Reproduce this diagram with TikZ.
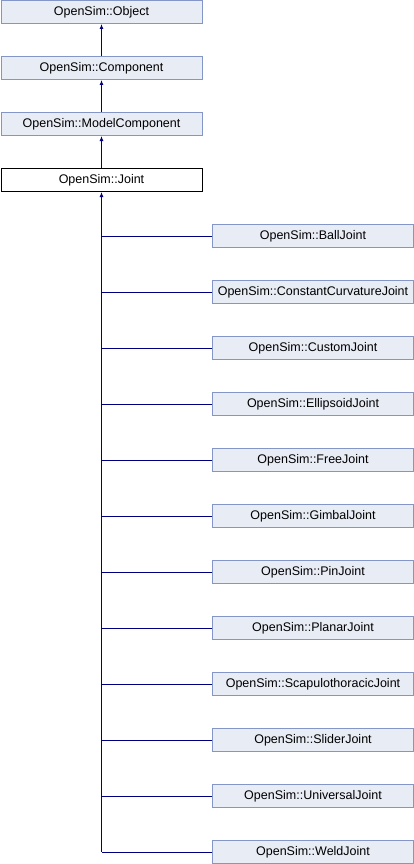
\documentclass[tikz,border=0pt]{standalone}
\usepackage{fontspec}
\setmainfont{Liberation Sans}
\usetikzlibrary{arrows.meta,positioning}
\definecolor{boxfill}{RGB}{232,236,245}
\definecolor{boxline}{RGB}{132,150,200}
\definecolor{edgeblue}{RGB}{0,0,128}

\begin{document}
\begin{tikzpicture}[x=1pt,y=-1pt,
  classbox/.style={draw=boxline,fill=boxfill,line width=1pt,minimum width=201pt,minimum height=23pt,inner sep=0pt,font=\fontsize{12.5}{14}\selectfont},
  mainbox/.style={classbox,draw=black,fill=white},
  edge/.style={draw=edgeblue,line width=1pt},
  inherit/.style={edge,{Latex[length=5pt,width=4pt]}-}]

%Canvas
\useasboundingbox (0,0) rectangle (414,864);

%Base classes
\node[classbox] (O) at (101.5,12) {OpenSim::Object};
\node[classbox] (C) at (101.5,68) {OpenSim::Component};
\node[classbox] (M) at (101.5,124) {OpenSim::ModelComponent};
\node[mainbox] (J) at (101.5,180) {OpenSim::Joint};

%Drawing inheritance up the chain
\draw[inherit] (O.south) -- (C.north);
\draw[inherit] (C.south) -- (M.north);
\draw[inherit] (M.south) -- (J.north);

%Derived joints
\foreach \name [count=\i from 0] in {BallJoint,ConstantCurvatureJoint,CustomJoint,EllipsoidJoint,FreeJoint,GimbalJoint,PinJoint,PlanarJoint,ScapulothoracicJoint,SliderJoint,UniversalJoint,WeldJoint}
{
  \node[classbox] (\name) at (313,236+56*\i) {OpenSim::\name};
  \draw[edge] (\name.west) -- (J.south |- \name.west);
}

%Drawing trunk to Joint
\draw[inherit] (J.south) -- (J.south |- WeldJoint.west);

\end{tikzpicture}
\end{document}
